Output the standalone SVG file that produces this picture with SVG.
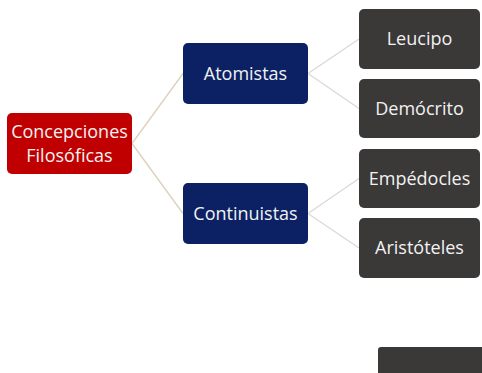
<svg xmlns="http://www.w3.org/2000/svg" width="482" height="373" viewBox="0 0 482 373">
<style>
.box{stroke:none}
.root{fill:#c00000}
.mid{fill:#0b2163}
.leaf{fill:#3b3838}
.t{font-family:"Open Sans","Noto Sans","Liberation Sans",sans-serif;font-size:18px;fill:#f2f2f2;text-anchor:middle}
.c1{stroke:#ddd0bd;stroke-width:1.3;fill:none}
.c2{stroke:#d9d9d9;stroke-width:1.3;fill:none}
</style>
<rect width="482" height="373" fill="#ffffff"/>
<g id="connectors">
<line class="c1" x1="132" y1="143.5" x2="183" y2="73.5"/>
<line class="c1" x1="132" y1="143.5" x2="183" y2="213.5"/>
<line class="c2" x1="308" y1="73.5" x2="359" y2="39"/>
<line class="c2" x1="308" y1="73.5" x2="359" y2="108.5"/>
<line class="c2" x1="308" y1="213.5" x2="359" y2="178.5"/>
<line class="c2" x1="308" y1="213.5" x2="359" y2="248"/>
</g>
<g id="root">
<rect class="box root" x="7" y="113" width="125" height="61" rx="5"/>
<text class="t" x="69.5" y="137.5">Concepciones</text>
<text class="t" x="69.5" y="161.5">Filosóficas</text>
</g>
<g id="atomistas">
<rect class="box mid" x="183" y="43" width="125" height="61" rx="5"/>
<text class="t" x="245.5" y="80">Atomistas</text>
</g>
<g id="continuistas">
<rect class="box mid" x="183" y="183" width="125" height="61" rx="5"/>
<text class="t" x="245.5" y="220">Continuistas</text>
</g>
<g id="leucipo">
<rect class="box leaf" x="359" y="9" width="121" height="60" rx="5"/>
<text class="t" x="419.5" y="45">Leucipo</text>
</g>
<g id="democrito">
<rect class="box leaf" x="359" y="79" width="121" height="59" rx="5"/>
<text class="t" x="419.5" y="114.5">Demócrito</text>
</g>
<g id="empedocles">
<rect class="box leaf" x="359" y="149" width="121" height="59" rx="5"/>
<text class="t" x="419.5" y="184.5">Empédocles</text>
</g>
<g id="aristoteles">
<rect class="box leaf" x="359" y="218" width="121" height="60" rx="5"/>
<text class="t" x="419.5" y="254">Aristóteles</text>
</g>
<g id="bottom">
<rect class="box leaf" x="378" y="347" width="110" height="40" rx="3"/>
</g>
</svg>
